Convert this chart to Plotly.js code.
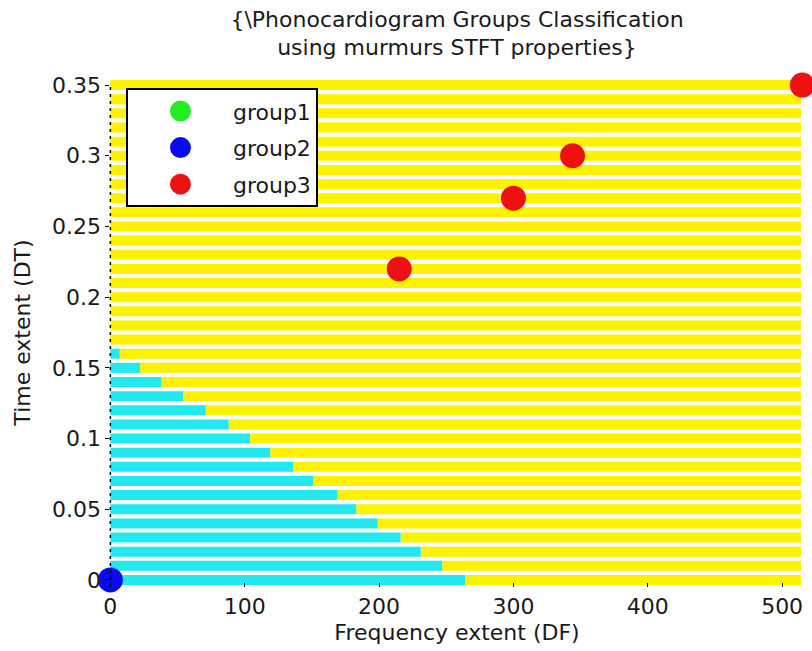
<!DOCTYPE html>
<html>
<head>
<meta charset="utf-8">
<script src="https://cdn.plot.ly/plotly-3.0.1.min.js"></script>
<style>html,body{margin:0;padding:0;background:#fff;}#chart{width:812px;height:651px;}</style>
</head>
<body>
<div id="chart"></div>
<script>
// Classification grid rows (time extent values of each stripe)
var stripeY = [0, 0.01, 0.02, 0.03, 0.04, 0.05, 0.06, 0.07, 0.08, 0.09,
               0.10, 0.11, 0.12, 0.13, 0.14, 0.15, 0.16, 0.17, 0.18, 0.19,
               0.20, 0.21, 0.22, 0.23, 0.24, 0.25, 0.26, 0.27, 0.28, 0.29,
               0.30, 0.31, 0.32, 0.33, 0.34, 0.35];
// Frequency where the cyan region ends on each row (0 = no cyan)
var cyanEnd = [264, 247, 231, 216, 199, 183, 169, 151, 136, 119,
               104, 88, 71, 54, 38, 22, 7, 0, 0, 0,
               0, 0, 0, 0, 0, 0, 0, 0, 0, 0,
               0, 0, 0, 0, 0, 0];
var gridStart = 0;
var gridEnd = 514;

// Data points
var group1X = [];
var group1Y = [];
var group2X = [0];
var group2Y = [0];
var group3X = [215, 300, 344, 515];
var group3Y = [0.22, 0.27, 0.30, 0.35];

var cyanX = [], cyanY = [], yelX = [], yelY = [];
for (var i = 0; i < stripeY.length; i++) {
  var e = cyanEnd[i];
  if (e > 0) {
    cyanX.push(gridStart, e, null);
    cyanY.push(stripeY[i], stripeY[i], null);
  }
  yelX.push(e > 0 ? e : gridStart, gridEnd, null);
  yelY.push(stripeY[i], stripeY[i], null);
}

var FONT = 'DejaVu Sans, Arial, sans-serif';
var TXT = '#1a1a1a';
var FS = 22;

var traces = [
  {x: yelX, y: yelY, mode: 'lines', line: {color: '#fff200', width: 10},
   showlegend: false, hoverinfo: 'skip'},
  {x: cyanX, y: cyanY, mode: 'lines', line: {color: '#22e8f0', width: 10},
   showlegend: false, hoverinfo: 'skip'},
  {x: group1X.length ? group1X : [null], y: group1Y.length ? group1Y : [null],
   name: 'group1', legendgroup: 'g1', mode: 'markers', cliponaxis: false,
   marker: {color: '#22ee22', size: 20, line: {color: '#22ee22', width: 5}}},
  {x: group2X, y: group2Y, name: 'group2', legendgroup: 'g2', mode: 'markers', cliponaxis: false,
   marker: {color: '#0a0aee', size: 20, line: {color: '#0a0aee', width: 5}}},
  {x: group3X, y: group3Y, name: 'group3', legendgroup: 'g3', mode: 'markers', cliponaxis: false,
   marker: {color: '#ee1111', size: 20, line: {color: '#ee1111', width: 5}}}
];

var layout = {
  width: 812, height: 651,
  paper_bgcolor: '#ffffff', plot_bgcolor: '#ffffff',
  margin: {l: 105, r: 3, t: 78, b: 64},
  font: {family: FONT, size: FS, color: TXT},
  title: {
    text: '{\\Phonocardiogram Groups Classification<br>using murmurs STFT properties}',
    font: {family: FONT, size: FS, color: TXT},
    xref: 'paper', x: 0.5, xanchor: 'center',
    yref: 'container', y: 0.959, yanchor: 'top'
  },
  xaxis: {
    range: [-4, 520], tickvals: [0, 100, 200, 300, 400, 500],
    ticks: 'inside', ticklen: 4, tickcolor: '#000',
    showgrid: false, zeroline: false, showline: false,
    ticklabelstandoff: 4,
    tickfont: {family: FONT, size: FS, color: TXT},
    title: {text: 'Frequency extent (DF)', font: {family: FONT, size: FS, color: TXT}, standoff: 6}
  },
  yaxis: {
    range: [-0.005, 0.355], tickvals: [0, 0.05, 0.1, 0.15, 0.2, 0.25, 0.3, 0.35],
    ticktext: ['0', '0.05', '0.1', '0.15', '0.2', '0.25', '0.3', '0.35'],
    ticks: 'inside', ticklen: 4, tickcolor: '#000',
    showgrid: false, zeroline: false, showline: false,
    ticklabelstandoff: 3,
    tickfont: {family: FONT, size: FS, color: TXT},
    title: {text: 'Time extent (DT)', font: {family: FONT, size: FS, color: TXT}, standoff: 15}
  },
  shapes: [{
    type: 'line', xref: 'x', yref: 'y', x0: 0, x1: 0, y0: 0, y1: 0.35,
    line: {color: '#000', width: 1.5, dash: '3px,4px'}, layer: 'above'
  }],
  legend: {
    x: 0.0298, y: 0.98, xanchor: 'left', yanchor: 'top',
    bgcolor: '#ffffff', bordercolor: '#000', borderwidth: 2,
    font: {family: FONT, size: FS, color: TXT},
    itemwidth: 95, tracegroupgap: 5, entrywidth: 162,
    itemsizing: 'trace'
  },
  showlegend: true
};

Plotly.newPlot('chart', traces, layout, {displayModeBar: false, staticPlot: true});
</script>
</body>
</html>
